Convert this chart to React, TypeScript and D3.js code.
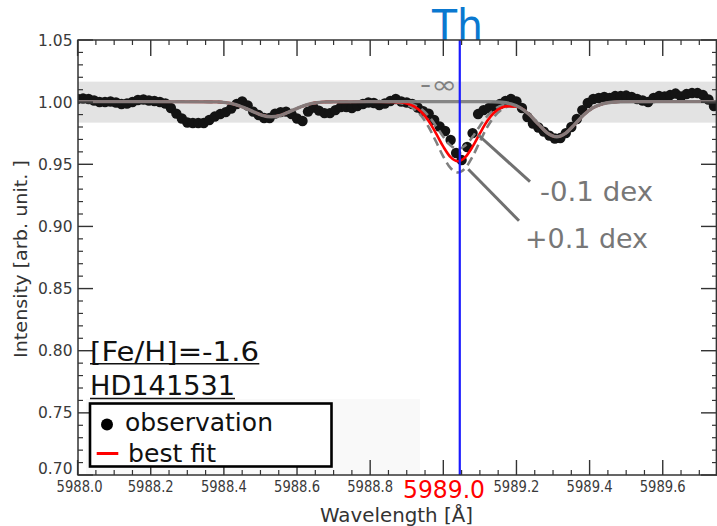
import React from "react";
import * as d3 from "d3";

const W = 717;
const H = 526;
const PLOT = { left: 78, top: 40, right: 717, bottom: 475 };
const FONT = "'DejaVu Sans', Verdana, sans-serif";

// Observed spectrum of HD141531, sampled on a uniform 0.015 Å grid from 5988.000 Å
const obsStart = 5988.0;
const obsStep = 0.015;
const obsIntensity = [
  1.0025, 1.0029, 1.0025, 1.0013, 1.0001, 1.0001, 1.0005, 0.9997, 0.9985, 0.9989,
  1.0001, 1.0017, 1.0021, 1.0013, 1.0009, 1.0001, 0.9989, 0.9953, 0.9908, 0.9868,
  0.9836, 0.9832, 0.9832, 0.9832, 0.9856, 0.9884, 0.9904, 0.992, 0.9949, 0.9985,
  1.0005, 0.9973, 0.9924, 0.9896, 0.9872, 0.9872, 0.9908, 0.992, 0.9924, 0.9904,
  0.9868, 0.9848, 0.9924, 0.9957, 0.9932, 0.9912, 0.9912, 0.9936, 0.9961, 0.9961,
  0.9953, 0.9969, 0.9985, 0.9997, 0.9993, 0.9977, 0.9989, 1.0009, 1.0025, 1.0005,
  0.9997, 0.9985, 0.9957, 0.9928, 0.9908, 0.9856, 0.9804, 0.9768, 0.9695, 0.9591,
  0.9534, 0.9639, 0.9751, 0.9904, 0.9936, 0.9953, 0.9969, 0.9985, 1.0009, 1.0025,
  1.0005, 0.9953, 0.988, 0.9828, 0.9796, 0.9763, 0.9731, 0.9707, 0.9711, 0.9751,
  0.98, 0.9864, 0.9936, 0.9993, 1.0025, 1.0033, 1.0041, 1.0033, 1.0049, 1.0049,
  1.0053, 1.0041, 1.0025, 1.0013, 1.0001, 1.0033, 1.0049, 1.0045, 1.0057, 1.0069,
  1.0045, 1.0065, 1.0073, 1.0073, 1.0057, 1.0021, 0.9969,
];

// Synthetic spectrum without thorium ([Th/Fe] = -inf)
const baseWave = [
  5988.0, 5988.2, 5988.38, 5988.405, 5988.43, 5988.455, 5988.48, 5988.505, 5988.53,
  5988.555, 5988.58, 5988.605, 5988.63, 5988.655, 5988.68, 5988.8, 5988.86, 5989.0,
  5989.1, 5989.135, 5989.16, 5989.185, 5989.21, 5989.235, 5989.26, 5989.285, 5989.31,
  5989.335, 5989.36, 5989.385, 5989.41, 5989.435, 5989.46, 5989.485, 5989.6, 5989.75,
];
const baseFlux = [
  1.0004, 1.0004, 1.0002, 0.9996, 0.9982, 0.9956, 0.9924, 0.9894, 0.9882,
  0.9894, 0.9924, 0.9956, 0.9982, 0.9996, 1.0002, 1.0004, 1.0004, 1.0004,
  1.0004, 1.0003, 0.9999, 0.9986, 0.9956, 0.99, 0.9823, 0.9751, 0.9721,
  0.9751, 0.9823, 0.99, 0.9956, 0.9986, 0.9999, 1.0003, 1.0004, 1.0004,
];

// Synthetic spectra around the Th II 5989.045 Å line
const thWave = [
  5988.86, 5988.88, 5988.9, 5988.92, 5988.94, 5988.96, 5988.98, 5989.0, 5989.02,
  5989.04, 5989.06, 5989.08, 5989.1, 5989.12, 5989.14, 5989.16, 5989.18, 5989.2,
];
const bestFitFlux = [
  1.0002, 0.9999, 0.9989, 0.9966, 0.9921, 0.9848, 0.9749, 0.9642, 0.9557,
  0.9524, 0.9557, 0.9642, 0.9749, 0.9848, 0.9919, 0.9957, 0.9968, 0.9963,
];
const plusDexFlux = [
  1.0001, 0.9994, 0.9979, 0.9947, 0.9888, 0.9799, 0.9683, 0.9562, 0.9469,
  0.9434, 0.9469, 0.9562, 0.9683, 0.9799, 0.9886, 0.9942, 0.9965, 0.9961,
];
const minusDexFlux = [
  1.0003, 1.0001, 0.9994, 0.9978, 0.9944, 0.9888, 0.9809, 0.9721, 0.9651,
  0.9624, 0.9651, 0.9721, 0.9809, 0.9888, 0.9942, 0.9973, 0.998, 0.9968,
];

const thLine = 5989.045;
const bandRange = [0.9835, 1.0165];

const xMajor = [5988.0, 5988.2, 5988.4, 5988.6, 5988.8, 5989.0, 5989.2, 5989.4, 5989.6];
const xLabels = ["5988.0", "5988.2", "5988.4", "5988.6", "5988.8", "5989.0", "5989.2", "5989.4", "5989.6"];
const yMajor = [0.7, 0.75, 0.8, 0.85, 0.9, 0.95, 1.0, 1.05];
const yLabels = ["0.70", "0.75", "0.80", "0.85", "0.90", "0.95", "1.00", "1.05"];

const x = d3.scaleLinear().domain([5988.0, 5989.75]).range([77.6, 717.6]);
const y = d3.scaleLinear().domain([0.7, 1.05]).range([PLOT.bottom, PLOT.top]);

type Pt = [number, number];

function splice(thFlux: number[]): Pt[] {
  const lo = thWave[0];
  const hi = thWave[thWave.length - 1];
  const pts: Pt[] = [];
  baseWave.forEach((w, i) => { if (w < lo) pts.push([w, baseFlux[i]]); });
  thWave.forEach((w, i) => pts.push([w, thFlux[i]]));
  baseWave.forEach((w, i) => { if (w > hi) pts.push([w, baseFlux[i]]); });
  return pts;
}

const line = d3
  .line<Pt>()
  .x((d) => x(d[0]))
  .y((d) => y(d[1]))
  .curve(d3.curveMonotoneX);

const basePts: Pt[] = baseWave.map((w, i) => [w, baseFlux[i]]);
const obsPts: Pt[] = obsIntensity.map((v, i) => [obsStart + obsStep * i, v]);

const xMinor = d3.range(0, 36).map((i) => 5988.0 + i * 0.05).filter((v) => Math.abs(Math.round(v * 5) - v * 5) > 1e-6);
const yMinor = d3.range(0, 36).map((i) => 0.7 + i * 0.01).filter((v) => Math.abs(Math.round(v * 20) - v * 20) > 1e-6);

const AXIS = "#333";
const GRAY = "#808080";

export default function App() {
  const pw = PLOT.right - PLOT.left;
  const ph = PLOT.bottom - PLOT.top;
  return (
    <svg
      width={W}
      height={H}
      viewBox={`0 0 ${W} ${H}`}
      style={{ position: "absolute", left: 0, top: 0, background: "#fff" }}
      fontFamily={FONT}
    >
      <defs>
        <clipPath id="plotClip">
          <rect x={PLOT.left} y={PLOT.top} width={pw} height={ph} />
        </clipPath>
      </defs>
      <rect x={0} y={0} width={W} height={H} fill="#fff" />

      {/* legend backdrop */}
      <rect x={86} y={399} width={334} height={75} fill="#f9f9f9" />

      <g clipPath="url(#plotClip)">
        <rect
          x={PLOT.left}
          y={y(bandRange[1])}
          width={pw}
          height={y(bandRange[0]) - y(bandRange[1])}
          fill="#e3e3e3"
        />
        {obsPts.map((d, i) => (
          <circle key={i} cx={x(d[0])} cy={y(d[1])} r={5.2} fill="#141414" />
        ))}
        <path d={line(splice(plusDexFlux)) || ""} fill="none" stroke={GRAY} strokeWidth={2.6} strokeDasharray="9 5" />
        <path d={line(splice(minusDexFlux)) || ""} fill="none" stroke={GRAY} strokeWidth={2.6} strokeDasharray="9 5" />
        <path d={line(splice(bestFitFlux)) || ""} fill="none" stroke="#ff0000" strokeWidth={2.6} />
        <path d={line(basePts) || ""} fill="none" stroke={GRAY} strokeWidth={3.4} opacity={0.95} />
      </g>

      {/* Th line marker */}
      <line x1={x(thLine)} x2={x(thLine)} y1={PLOT.top} y2={PLOT.bottom} stroke="#1a1aff" strokeWidth={2.2} />
      <text x={432} y={40} fontSize={43} fill="#0a78d0" textLength={51} lengthAdjust="spacingAndGlyphs">Th</text>

      {/* frame */}
      <rect x={PLOT.left} y={PLOT.top} width={pw - 0.6} height={ph} fill="none" stroke={AXIS} strokeWidth={1.5} />

      {/* x ticks */}
      {xMajor.map((v) => (
        <g key={"xM" + v}>
          <line x1={x(v)} x2={x(v)} y1={PLOT.top} y2={PLOT.top + 16} stroke={AXIS} strokeWidth={1.4} />
          <line x1={x(v)} x2={x(v)} y1={PLOT.bottom} y2={PLOT.bottom - 15} stroke={AXIS} strokeWidth={1.4} />
        </g>
      ))}
      {xMinor.map((v) => (
        <g key={"xm" + v}>
          <line x1={x(v)} x2={x(v)} y1={PLOT.top} y2={PLOT.top + 5} stroke={AXIS} strokeWidth={1.2} />
          <line x1={x(v)} x2={x(v)} y1={PLOT.bottom} y2={PLOT.bottom - 5} stroke={AXIS} strokeWidth={1.2} />
        </g>
      ))}
      {/* y ticks */}
      {yMajor.map((v) => (
        <g key={"yM" + v}>
          <line x1={PLOT.left} x2={PLOT.left + 15} y1={y(v)} y2={y(v)} stroke={AXIS} strokeWidth={1.4} />
          <line x1={PLOT.right} x2={PLOT.right - 16} y1={y(v)} y2={y(v)} stroke={AXIS} strokeWidth={1.4} />
        </g>
      ))}
      {yMinor.map((v) => (
        <g key={"ym" + v}>
          <line x1={PLOT.left} x2={PLOT.left + 5} y1={y(v)} y2={y(v)} stroke={AXIS} strokeWidth={1.2} />
          <line x1={PLOT.right} x2={PLOT.right - 5} y1={y(v)} y2={y(v)} stroke={AXIS} strokeWidth={1.2} />
        </g>
      ))}

      {/* tick labels */}
      {yMajor.map((v, i) => (
        <text
          key={"yl" + v}
          x={72.5}
          y={i === 0 ? y(v) - 7 : y(v)}
          dy="0.36em"
          textAnchor="end"
          fontSize={15.5}
          fill="#3a3a3a"
        >
          {yLabels[i]}
        </text>
      ))}
      {xMajor.map((v, i) =>
        xLabels[i] === "5989.0" ? null : (
          <text
            key={"xl" + v}
            x={i === 0 ? x(v) + 2 : x(v)}
            y={492}
            textAnchor="middle"
            fontSize={15.5}
            fill="#3a3a3a"
            textLength={46}
            lengthAdjust="spacingAndGlyphs"
          >
            {xLabels[i]}
          </text>
        )
      )}
      <text x={444} y={498} textAnchor="middle" fontSize={24} fill="#ff0000" textLength={82} lengthAdjust="spacingAndGlyphs">
        5989.0
      </text>

      {/* axis titles */}
      <text x={320} y={522} fontSize={19.5} fill="#333" textLength={153} lengthAdjust="spacingAndGlyphs">
        Wavelength [Å]
      </text>
      <text transform="translate(27,259) rotate(-90)" textAnchor="middle" fontSize={18} fill="#333" textLength={198} lengthAdjust="spacingAndGlyphs">
        Intensity [arb. unit. ]
      </text>

      {/* model annotations */}
      <text x={420} y={93} fontSize={24} fill="#808080" textLength={37} lengthAdjust="spacingAndGlyphs">-∞</text>
      <line x1={478.3} y1={135} x2={530} y2={181.7} stroke="#707070" strokeWidth={3} />
      <line x1={468.3} y1={169.3} x2={519} y2={220.7} stroke="#707070" strokeWidth={3} />
      <text x={540} y={200.5} fontSize={27} fill="#777" textLength={113} lengthAdjust="spacingAndGlyphs">-0.1 dex</text>
      <text x={525} y={248} fontSize={27} fill="#777" textLength={123} lengthAdjust="spacingAndGlyphs">+0.1 dex</text>

      {/* star info */}
      <text x={90} y={360.5} fontSize={26} fill="#111" textLength={169} lengthAdjust="spacingAndGlyphs">[Fe/H]=-1.6</text>
      <line x1={90} x2={259.3} y1={363.8} y2={363.8} stroke="#111" strokeWidth={1.5} />
      <text x={90} y={395} fontSize={27} fill="#111" textLength={145} lengthAdjust="spacingAndGlyphs">HD141531</text>
      <line x1={90} x2={235} y1={398.5} y2={398.5} stroke="#111" strokeWidth={1.5} />

      {/* legend */}
      <rect x={90} y={403.5} width={241.5} height={63} fill="#fff" stroke="#000" strokeWidth={2.6} />
      <circle cx={107} cy={424.5} r={6} fill="#000" />
      <text x={125} y={430.5} fontSize={25} fill="#111" textLength={148} lengthAdjust="spacingAndGlyphs">observation</text>
      <line x1={96.7} x2={118.3} y1={453.5} y2={453.5} stroke="#ff0000" strokeWidth={3} />
      <text x={128} y={461.5} fontSize={25} fill="#111" textLength={88} lengthAdjust="spacingAndGlyphs">best fit</text>
    </svg>
  );
}
